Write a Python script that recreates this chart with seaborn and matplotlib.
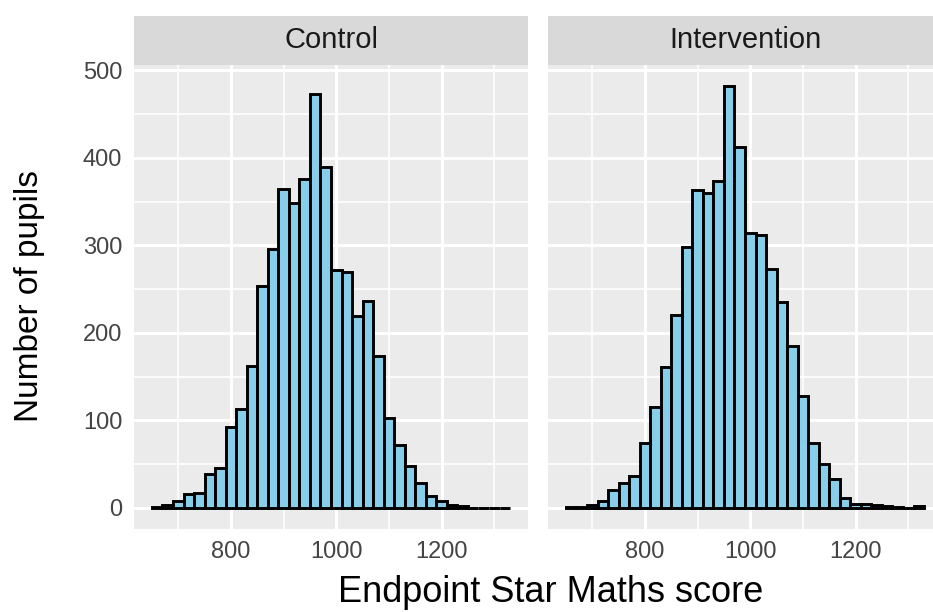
import numpy as np
import pandas as pd
import matplotlib
matplotlib.use("Agg")
import matplotlib.pyplot as plt
import seaborn as sns

# ---------------- data ----------------
groups = ["Control", "Intervention"]
bin_centres = [660, 680, 700, 720, 740, 760, 780, 800, 820, 840, 860, 880,
               900, 920, 940, 960, 980, 1000, 1020, 1040, 1060, 1080, 1100,
               1120, 1140, 1160, 1180, 1200, 1220, 1240, 1260, 1280, 1300, 1320]
bin_width = 20
control_counts = [1, 3, 8, 16, 17, 39, 46, 93, 113, 162, 253, 296, 364, 348,
                  376, 473, 390, 272, 269, 219, 237, 174, 103, 72, 48, 29, 14,
                  8, 3, 2, 0, 0, 0, 0]
intervention_counts = [1, 1, 3, 8, 21, 28, 37, 74, 115, 161, 221, 298, 363, 360,
                       374, 482, 412, 314, 312, 273, 235, 185, 128, 74, 50, 33,
                       11, 5, 4, 3, 2, 1, 0, 2]
x_ticks = [800, 1000, 1200]
x_minor = [700, 900, 1100, 1300]
y_ticks = [0, 100, 200, 300, 400, 500]
y_minor = [50, 150, 250, 350, 450]
x_title = "Endpoint Star Maths score"
y_title = "Number of pupils"

df = pd.DataFrame({
    "group": [groups[0]] * len(bin_centres) + [groups[1]] * len(bin_centres),
    "score": bin_centres * 2,
    "count": control_counts + intervention_counts,
})
edges = [c - bin_width / 2 for c in bin_centres] + [bin_centres[-1] + bin_width / 2]

# ---------------- style ----------------
sns.set_style("white")
plt.rcParams["font.family"] = ["Liberation Sans", "DejaVu Sans"]

W, H = 933, 612
fig = plt.figure(figsize=(W / 100, H / 100), dpi=100)


def rect(x0, y0, x1, y1):
    return [x0 / W, 1 - y1 / H, (x1 - x0) / W, (y1 - y0) / H]


PANEL_BG = "#EBEBEB"
STRIP_BG = "#D9D9D9"
FILL = "#87CEEB"

span = edges[-1] - edges[0]
xlim = (edges[0] - 0.05 * span, edges[-1] + 0.05 * span)
ymax = max(max(control_counts), max(intervention_counts))
ylim = (-0.05 * ymax, 1.05 * ymax)

panels = [(134, 528), (548, 942)]
for i, g in enumerate(groups):
    x0, x1 = panels[i]
    ax = fig.add_axes(rect(x0, 65, x1, 529))
    ax.set_facecolor(PANEL_BG)
    sub = df[df["group"] == g]
    sns.histplot(data=sub, x="score", weights="count", bins=edges, ax=ax,
                 color=FILL, edgecolor="black", linewidth=2.1, alpha=1,
                 zorder=3)
    ax.set_xlim(xlim)
    ax.set_ylim(ylim)
    ax.set_xticks(x_ticks)
    ax.set_xticks(x_minor, minor=True)
    ax.set_yticks(y_ticks)
    ax.set_yticks(y_minor, minor=True)
    ax.grid(which="major", color="white", linewidth=2.1, zorder=0)
    ax.grid(which="minor", color="white", linewidth=1.2, zorder=0)
    ax.set_axisbelow(True)
    for s in ax.spines.values():
        s.set_visible(False)
    ax.set_xlabel("")
    ax.set_ylabel("")
    ax.tick_params(axis="both", which="major", length=4.5, width=1.5,
                   color="#333333", labelcolor="#444444", labelsize=17,
                   pad=4)
    ax.tick_params(axis="both", which="minor", length=0)
    if i == 1:
        ax.tick_params(axis="y", which="both", length=0, labelleft=False)

    sax = fig.add_axes(rect(x0, 16, x1, 65))
    sax.set_facecolor(STRIP_BG)
    sax.set_xticks([])
    sax.set_yticks([])
    for s in sax.spines.values():
        s.set_visible(False)
    sax.text(0.5, 0.5, g, ha="center", va="center", fontsize=21,
             color="#1A1A1A", transform=sax.transAxes)

fig.text(551 / W, 1 - 592 / H, x_title, ha="center", va="center",
         fontsize=26, color="black")
fig.text(30 / W, 1 - 296 / H, y_title, ha="center", va="center",
         fontsize=24, color="black", rotation=90)

fig.savefig("out.png", dpi=100, facecolor="white")
